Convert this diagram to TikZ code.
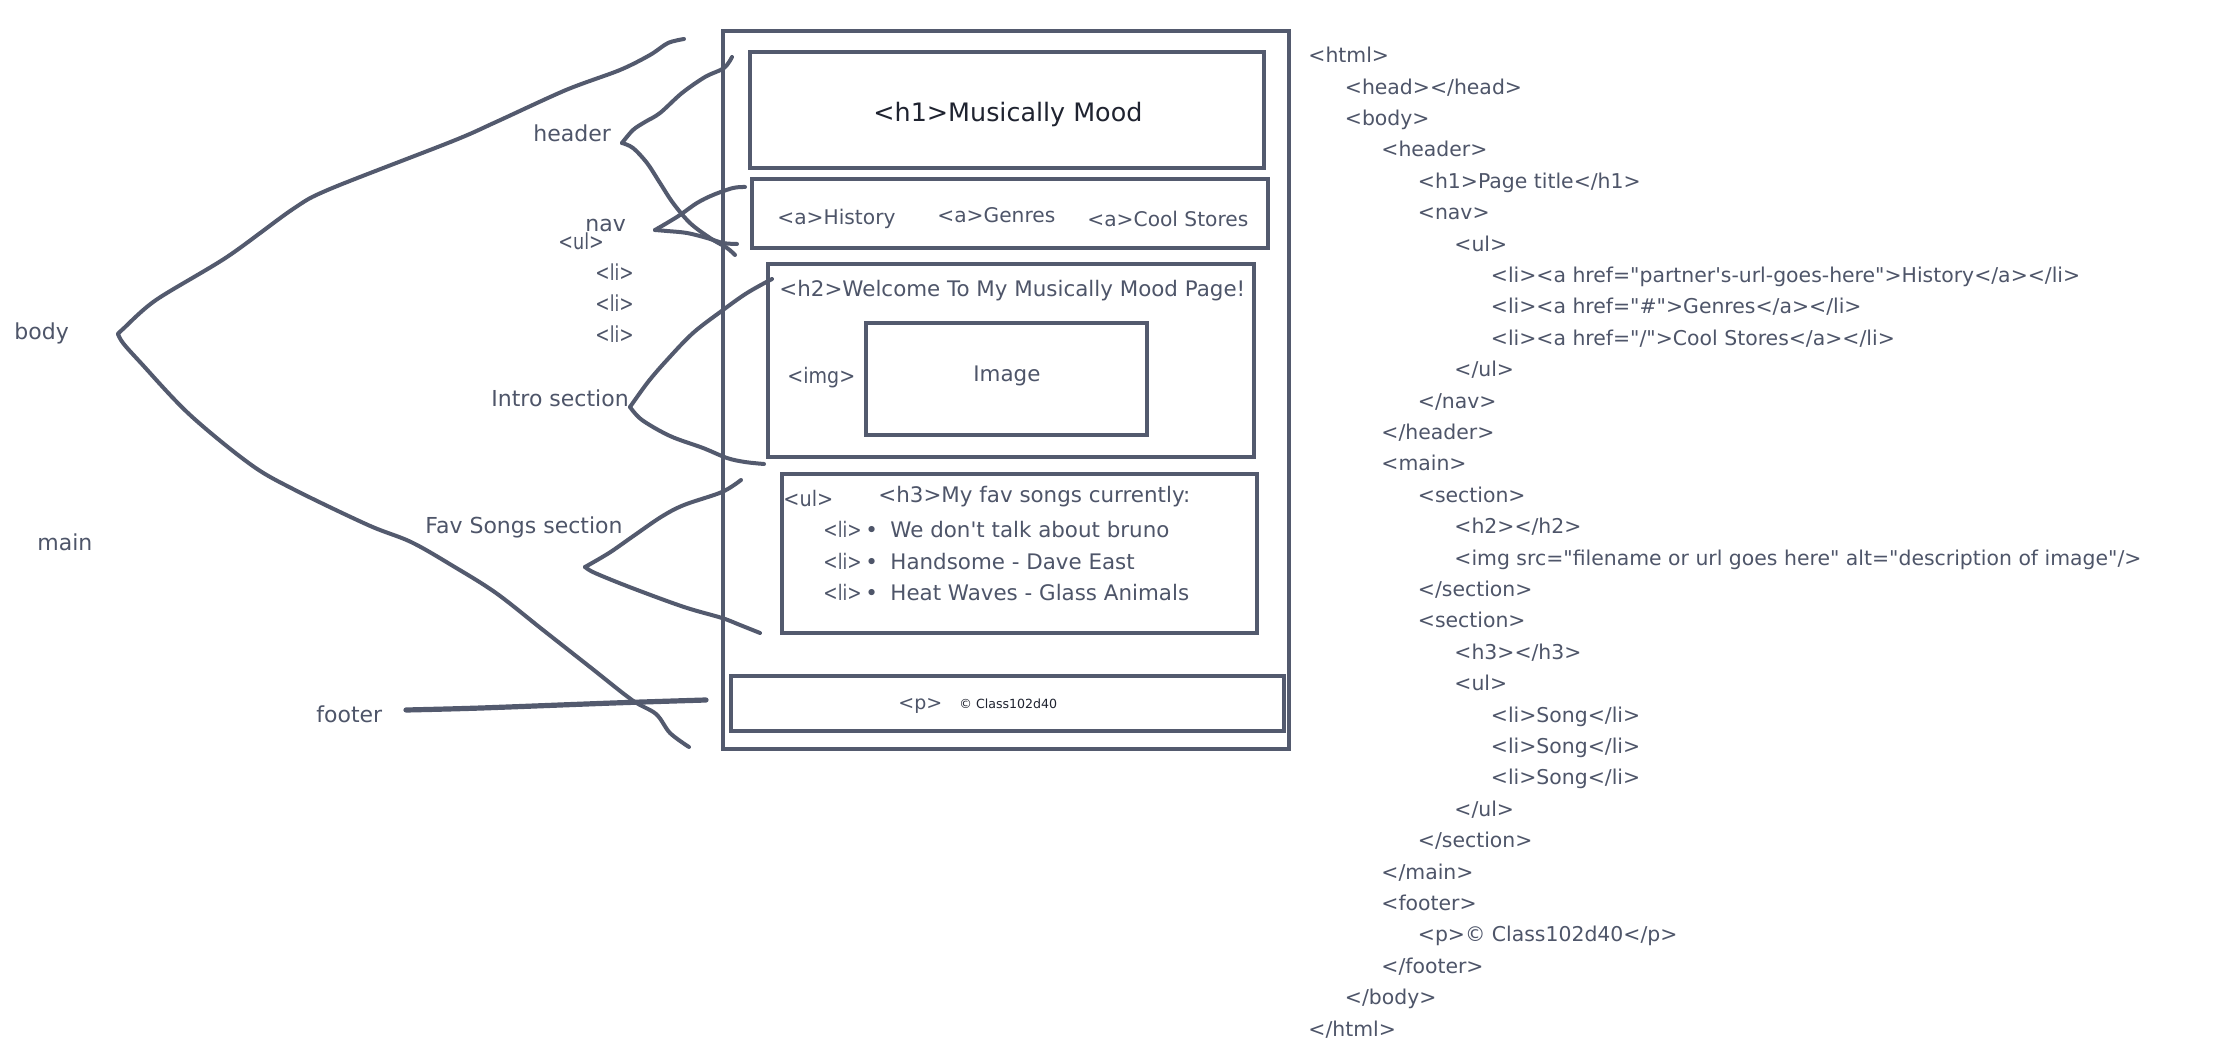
\documentclass[tikz,border=0pt]{standalone}
\usepackage{fontspec}
\setmainfont{DejaVu Sans}
\usetikzlibrary{fit}
\definecolor{lc}{HTML}{535A6E}
\definecolor{tc}{HTML}{4E5569}
\definecolor{dk}{HTML}{1F2330}
\newcommand\myCode{\fontsize{10.2pt}{12pt}\selectfont}
\newcommand\myLabel{\fontsize{11pt}{13pt}\selectfont}
\newcommand\myBoxTxt{\fontsize{10.7pt}{13pt}\selectfont}
\newcommand\myTitle{\fontsize{12.7pt}{15pt}\selectfont}
\newcommand\mySmall{\fontsize{6.3pt}{8pt}\selectfont}
\newcommand\myP{\fontsize{9.5pt}{11pt}\selectfont}
\newcommand\qq{\textquotedbl}
\newcommand\narrow[2]{\scalebox{#1}[1]{#2}}
\newcommand\codeline[3]{\node[code] (c#1) at ({1308+36.5*#2},{62.7+31.4*#1}) {#3};}
\begin{document}
\begin{tikzpicture}[x=0.5pt,y=-0.5pt,
  box/.style={draw=lc,line width=2pt,inner sep=0pt,outer sep=0pt},
  code/.style={anchor=base west,inner sep=0pt,text=tc,font=\myCode},
  lbl/.style={anchor=base west,inner sep=0pt,text=tc,font=\myLabel},
  btxt/.style={anchor=base west,inner sep=0pt,text=tc,font=\myBoxTxt},
  curve/.style={draw=lc,line width=2pt,line cap=round,line join=round}]
\fill[white] (0,0) rectangle (2216,1063);
\useasboundingbox (0,0) rectangle (2216,1063);

% wireframe boxes
\node[box,fit={(723,31) (1289,749)}] (outer) {};
\node[box,fit={(750,52) (1264,168)}] (h1box) {};
\node[box,fit={(752,179) (1268,248)}] (navbox) {};
\node[box,fit={(768,264) (1254,457)}] (introbox) {};
\node[box,fit={(866,323) (1147,435)}] (imgbox) {};
\node[box,fit={(782,474) (1257,633)}] (favbox) {};
\node[box,fit={(731,676) (1284,731)}] (footbox) {};

% texts in boxes
\node[btxt,font=\myTitle,text=dk] (h1t) at (873,122) {<h1>Musically Mood};
\node[btxt,font=\fontsize{10.1pt}{12pt}\selectfont] (a1) at (777,225) {<a>History};
\node[btxt,font=\fontsize{10.1pt}{12pt}\selectfont] (a2) at (937,223) {<a>Genres};
\node[btxt,font=\fontsize{10.1pt}{12pt}\selectfont] (a3) at (1087,227) {<a>Cool Stores};
\node[btxt] (h2t) at (779,297) {<h2>Welcome To My Musically Mood Page!};
\node[btxt] (imgt) at (787,384) {\narrow{0.89}{<img>}};
\node[btxt] (imaget) at (973,382) {Image};
\node[btxt] (ult) at (783,507) {\narrow{0.9}{<ul>}};
\node[btxt] (h3t) at (878,503) {<h3>My fav songs currently:};
\node[btxt] (li1) at (823,538) {\narrow{0.8}{<li>}};
\node[btxt] (li2) at (823,570) {\narrow{0.8}{<li>}};
\node[btxt] (li3) at (823,601) {\narrow{0.8}{<li>}};
\node[btxt] (b1) at (865,538) {•};
\node[btxt] (b2) at (865,570) {•};
\node[btxt] (b3) at (865,601) {•};
\node[btxt] (s1) at (890,538) {We don\textquotesingle t talk about bruno};
\node[btxt] (s2) at (890,570) {Handsome - Dave East};
\node[btxt] (s3) at (890,601) {Heat Waves - Glass Animals};
\node[btxt,font=\myP] (pt) at (898,709) {<p>};
\node[btxt,font=\mySmall,text=dk] (copy) at (959,708) {© Class102d40};

% left labels
\node[lbl] (lheader) at (533,142) {header};
\node[lbl] (lnav) at (585,232) {nav};
\node[lbl] (lul) at (558,250) {\narrow{0.8}{<ul>}};
\node[lbl] (lli1) at (595,281) {\narrow{0.78}{<li>}};
\node[lbl] (lli2) at (595,312) {\narrow{0.78}{<li>}};
\node[lbl] (lli3) at (595,343) {\narrow{0.78}{<li>}};
\node[lbl] (lbody) at (14,340) {body};
\node[lbl] (lintro) at (491,407) {Intro section};
\node[lbl] (lmain) at (37,551) {main};
\node[lbl] (lfav) at (425,534) {Fav Songs section};
\node[lbl] (lfooter) at (316,722) {footer};

% braces
\draw[curve] plot[smooth,tension=0.5] coordinates {(684,39) (668,43) (650,55) (620,70) (566,90) (496,122) (453,141) (330,189) (293,209) (227,257) (156,300) (123,329) (118,334)};
\draw[curve] plot[smooth,tension=0.55] coordinates {(118,334) (123,343) (140,362) (189,414) (250,464) (293,489) (368,525) (411,542) (453,566) (496,593) (543,630) (590,667) (632,700) (656,714) (670,733) (689,747)};
\draw[curve] plot[smooth,tension=0.55] coordinates {(732,57) (724,68) (705,77) (682,93) (660,113) (645,122) (633,130) (622,143)};
\draw[curve] plot[smooth,tension=0.55] coordinates {(622,143) (633,148) (647,163) (660,183) (673,203) (690,223) (710,238) (727,248) (735,255)};
\draw[curve] plot[smooth,tension=0.55] coordinates {(745,187) (733,188) (713,195) (697,203) (680,215) (667,223) (655,230)};
\draw[curve] plot[smooth,tension=0.55] coordinates {(655,230) (667,231) (687,233) (707,238) (723,243) (737,244)};
\draw[curve] plot[smooth,tension=0.55] coordinates {(772,279) (747,293) (723,310) (693,333) (667,360) (648,382) (630,407)};
\draw[curve] plot[smooth,tension=0.55] coordinates {(630,407) (642,420) (670,436) (703,448) (727,458) (745,462) (764,464)};
\draw[curve] plot[smooth,tension=0.55] coordinates {(741,480) (722,492) (684,505) (661,517) (632,537) (609,553) (585,567)};
\draw[curve] plot[smooth,tension=0.55] coordinates {(585,567) (595,573) (632,588) (684,607) (722,618) (740,625) (760,633)};
\draw[curve,line width=2.6pt] plot[smooth,tension=0.55] coordinates {(406,710) (481,708) (613,703) (706,700)};

% code listing
\codeline{0}{0}{<html>}
\codeline{1}{1}{<head></head>}
\codeline{2}{1}{<body>}
\codeline{3}{2}{<header>}
\codeline{4}{3}{<h1>Page title</h1>}
\codeline{5}{3}{<nav>}
\codeline{6}{4}{<ul>}
\codeline{7}{5}{<li><a href=\qq partner\textquotesingle s-url-goes-here\qq>History</a></li>}
\codeline{8}{5}{<li><a href=\qq\#\qq>Genres</a></li>}
\codeline{9}{5}{<li><a href=\qq/\qq>Cool Stores</a></li>}
\codeline{10}{4}{</ul>}
\codeline{11}{3}{</nav>}
\codeline{12}{2}{</header>}
\codeline{13}{2}{<main>}
\codeline{14}{3}{<section>}
\codeline{15}{4}{<h2></h2>}
\codeline{16}{4}{<img src=\qq filename or url goes here\qq\ alt=\qq description of image\qq/>}
\codeline{17}{3}{</section>}
\codeline{18}{3}{<section>}
\codeline{19}{4}{<h3></h3>}
\codeline{20}{4}{<ul>}
\codeline{21}{5}{<li>Song</li>}
\codeline{22}{5}{<li>Song</li>}
\codeline{23}{5}{<li>Song</li>}
\codeline{24}{4}{</ul>}
\codeline{25}{3}{</section>}
\codeline{26}{2}{</main>}
\codeline{27}{2}{<footer>}
\codeline{28}{3}{<p>© Class102d40</p>}
\codeline{29}{2}{</footer>}
\codeline{30}{1}{</body>}
\codeline{31}{0}{</html>}
\end{tikzpicture}
\end{document}
